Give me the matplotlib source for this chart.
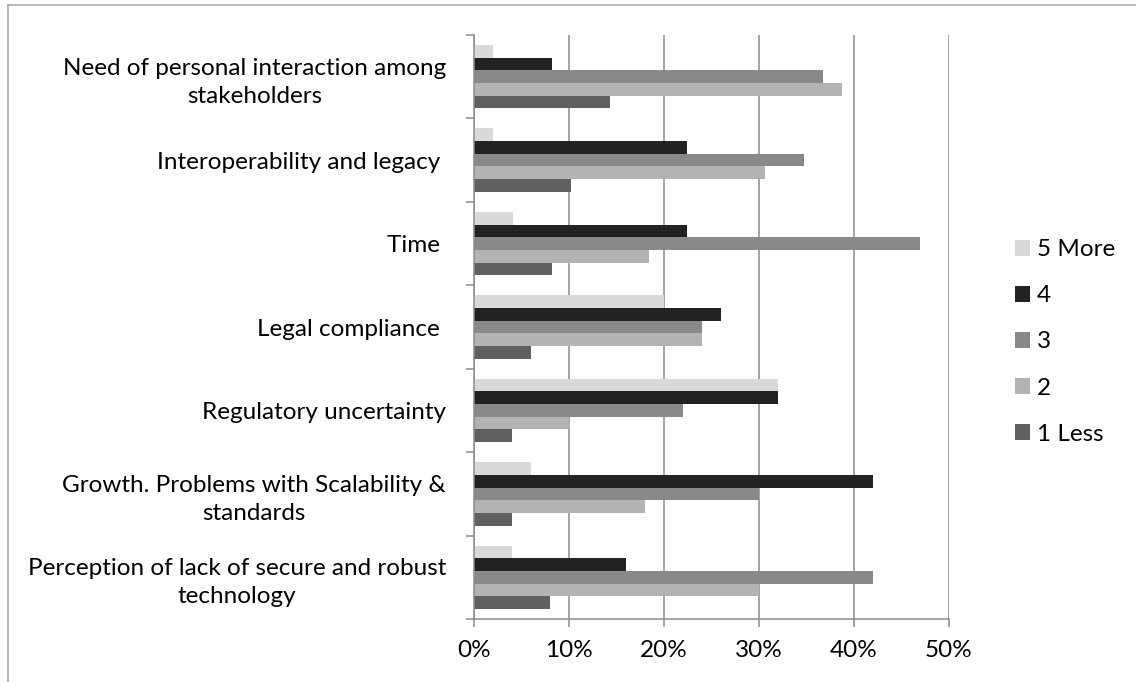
import numpy as np
import matplotlib.pyplot as plt
from matplotlib.lines import Line2D
from matplotlib.ticker import FixedLocator, PercentFormatter

plt.rcParams.update({
    "font.family": ["Lato", "DejaVu Sans"],
    "font.size": 17.5,
})

categories = [
    "Need of personal interaction among\nstakeholders",
    "Interoperability and legacy ",
    "Time ",
    "Legal compliance ",
    "Regulatory uncertainty",
    "Growth. Problems with Scalability &\nstandards",
    "Perception of lack of secure and robust\ntechnology",
]
series_names = ["5 More", "4", "3", "2", "1 Less"]
colors = ["#d9d9d9", "#222222", "#898989", "#b3b3b3", "#606060"]

# percentages, one list per series, categories top to bottom
more5 = [2.04, 2.04, 4.08, 20, 32, 6, 4]
four = [8.16, 22.45, 22.45, 26, 32, 42, 16]
three = [36.73, 34.69, 46.94, 24, 22, 30, 42]
two = [38.78, 30.61, 18.37, 24, 10, 18, 30]
less1 = [14.29, 10.20, 8.16, 6, 4, 4, 8]
values = [more5, four, three, two, less1]

fig = plt.figure(figsize=(11.36, 6.82), dpi=100)
ax = fig.add_axes([474 / 1136, 1 - 619 / 682, 475 / 1136, 584 / 682])

y = np.arange(len(categories))
h = 0.152
for j, (name, vals, col) in enumerate(zip(series_names, values, colors)):
    ax.barh(y + (j - 2) * h, vals, height=h, color=col, label=name, linewidth=0)

ax.set_xlim(0, 50)
ax.set_ylim(len(categories) - 0.5, -0.5)
ax.xaxis.set_major_locator(FixedLocator([0, 10, 20, 30, 40, 50]))
ax.xaxis.set_major_formatter(PercentFormatter(decimals=0))

# Excel-like category ticks at band boundaries, labels at centres
ax.yaxis.set_major_locator(FixedLocator(np.arange(-0.5, len(categories), 1)))
ax.yaxis.set_minor_locator(FixedLocator(y))
ax.set_yticklabels([], minor=False)
ax.set_yticklabels(categories, minor=True, multialignment="center", linespacing=1.4)
ax.tick_params(axis="y", which="minor", length=0, pad=20)
ax.tick_params(axis="y", which="major", length=6, width=1.1, color="#8c8c8c")
ax.tick_params(axis="x", length=6, width=1.1, color="#8c8c8c", pad=9)

ax.grid(axis="x", color="#8c8c8c", linewidth=1.1)
ax.set_axisbelow(True)
for side in ["top", "right"]:
    ax.spines[side].set_visible(False)
for side in ["left", "bottom"]:
    ax.spines[side].set_color("#8c8c8c")
    ax.spines[side].set_linewidth(1.1)

fig.legend(loc="center left", bbox_to_anchor=(1015 / 1136, 1 - 342 / 682),
           frameon=False, handlelength=0.6, handleheight=0.6,
           handletextpad=0.3, labelspacing=1.03, borderpad=0, borderaxespad=0)

# chart area border (left and top visible)
fig.add_artist(Line2D([8 / 1136, 8 / 1136], [0, 1 - 5 / 682], color="#a6a6a6", lw=1.1))
fig.add_artist(Line2D([8 / 1136, 1], [1 - 5 / 682, 1 - 5 / 682], color="#a6a6a6", lw=1.1))

fig.savefig("out.png", dpi=100)
